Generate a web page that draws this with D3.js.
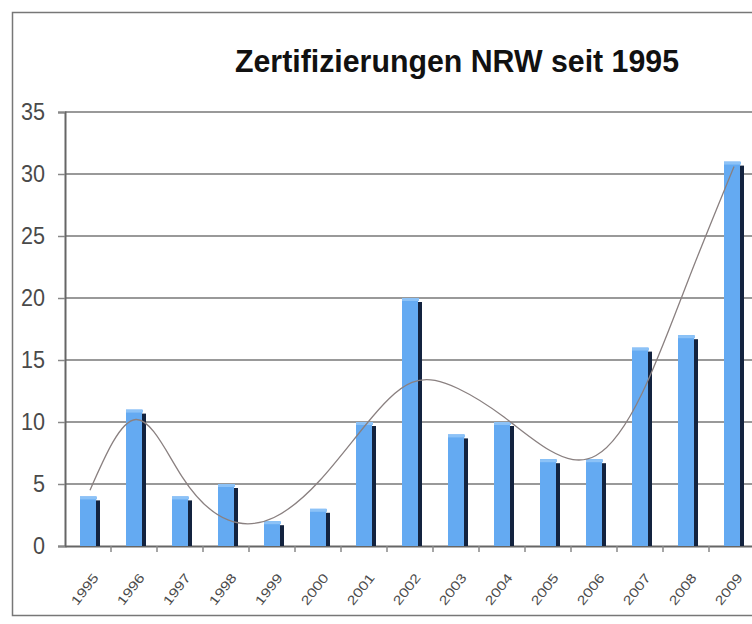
<!DOCTYPE html>
<meta charset="utf-8">
<title>Zertifizierungen NRW seit 1995</title>
<style>
  body { margin: 0; background: #fff; }
  .tick text { font-family: "Liberation Sans Narrow", "Liberation Sans", Arial, sans-serif; fill: #4a4a4a; }
</style>
<body>
<svg width="752" height="624"></svg>
<script src="https://d3js.org/d3.v7.min.js"></script>
<script>
  // years and number of certifications
  var years = ["1995", "1996", "1997", "1998", "1999", "2000", "2001", "2002",
               "2003", "2004", "2005", "2006", "2007", "2008", "2009"];
  var counts = [4, 11, 4, 5, 2, 3, 10, 20, 9, 10, 7, 7, 16, 17, 31];
  // polynomial trend line at each year
  var trend = [4.5, 10.2, 5.6, 2.1, 2.3, 5.3, 9.8, 13.2, 12.7, 10.4, 7.7, 7.3, 12.3, 21.4, 30.6];
  var yTicks = [0, 5, 10, 15, 20, 25, 30, 35];

  var svg = d3.select("svg");

  // outer frame
  svg.append("rect")
    .attr("x", 12.5).attr("y", 12.5)
    .attr("width", 800).attr("height", 603)
    .attr("fill", "none")
    .attr("stroke", "#777")
    .attr("stroke-width", 1.5);

  var x = d3.scaleBand().domain(years).range([65, 755]);
  var y = d3.scaleLinear().domain([0, 35]).range([546, 112]);

  // grid lines
  svg.append("g")
    .selectAll("line")
    .data(yTicks.slice(1))
    .enter().append("line")
    .attr("x1", 65).attr("x2", 752)
    .attr("y1", d => y(d)).attr("y2", d => y(d))
    .attr("stroke", "#999")
    .attr("stroke-width", 2);

  // y axis
  var yAxis = svg.append("g")
    .attr("transform", "translate(65,0)")
    .call(d3.axisLeft(y).tickValues(yTicks).tickSize(7).tickPadding(13));
  yAxis.select(".domain").attr("stroke", "#666").attr("stroke-width", 2);
  yAxis.selectAll(".tick line").attr("stroke", "#888").attr("stroke-width", 1.5);
  yAxis.selectAll(".tick text")
    .attr("font-size", 23)
    .attr("textLength", d => String(d).length * 12)
    .attr("lengthAdjust", "spacingAndGlyphs");

  // x axis
  var xAxis = svg.append("g")
    .attr("transform", "translate(0,546)")
    .call(d3.axisBottom(x).tickSize(0).tickSizeOuter(0));
  xAxis.select(".domain").attr("stroke", "#666").attr("stroke-width", 2);
  xAxis.selectAll(".tick text")
    .attr("font-size", 13)
    .attr("textLength", 36)
    .attr("lengthAdjust", "spacingAndGlyphs")
    .attr("text-anchor", "end")
    .attr("dy", 0)
    .attr("transform", "translate(9,30) rotate(-52)");
  // small tick marks between categories
  svg.append("g")
    .selectAll("line")
    .data(years.slice(1))
    .enter().append("line")
    .attr("x1", d => x(d)).attr("x2", d => x(d))
    .attr("y1", 546).attr("y2", 552)
    .attr("stroke", "#888")
    .attr("stroke-width", 1.5);

  // bars: dark side first, then the blue front
  var bars = svg.append("g")
    .selectAll("g")
    .data(years)
    .enter().append("g");

  bars.append("rect")
    .attr("x", d => x(d) + 30)
    .attr("width", 5)
    .attr("y", (d, i) => y(counts[i]) + 4)
    .attr("height", (d, i) => Math.max(0, y(0) - y(counts[i]) - 4))
    .attr("fill", "#13233f");

  bars.append("rect")
    .attr("x", d => x(d) + 15)
    .attr("width", 16)
    .attr("y", (d, i) => y(counts[i]))
    .attr("height", (d, i) => y(0) - y(counts[i]))
    .attr("fill", "#64aaf2");

  bars.append("rect")
    .attr("x", d => x(d) + 15)
    .attr("width", 17)
    .attr("y", (d, i) => y(counts[i]))
    .attr("height", 3)
    .attr("fill", "#8cc2f7");

  // trend line
  var line = d3.line()
    .x((d, i) => x(years[i]) + 25)
    .y(d => y(d))
    .curve(d3.curveNatural);

  svg.append("path")
    .datum(trend)
    .attr("d", line)
    .attr("fill", "none")
    .attr("stroke", "#8a8080")
    .attr("stroke-width", 1.3);

  // title
  svg.append("text")
    .attr("x", 457)
    .attr("y", 72)
    .attr("text-anchor", "middle")
    .attr("font-family", "'Liberation Sans Narrow', 'Liberation Sans', Arial, sans-serif")
    .attr("font-weight", "bold")
    .attr("font-size", 31)
    .attr("textLength", 444)
    .attr("lengthAdjust", "spacingAndGlyphs")
    .attr("fill", "#111")
    .text("Zertifizierungen NRW seit 1995");
</script>
</body>
